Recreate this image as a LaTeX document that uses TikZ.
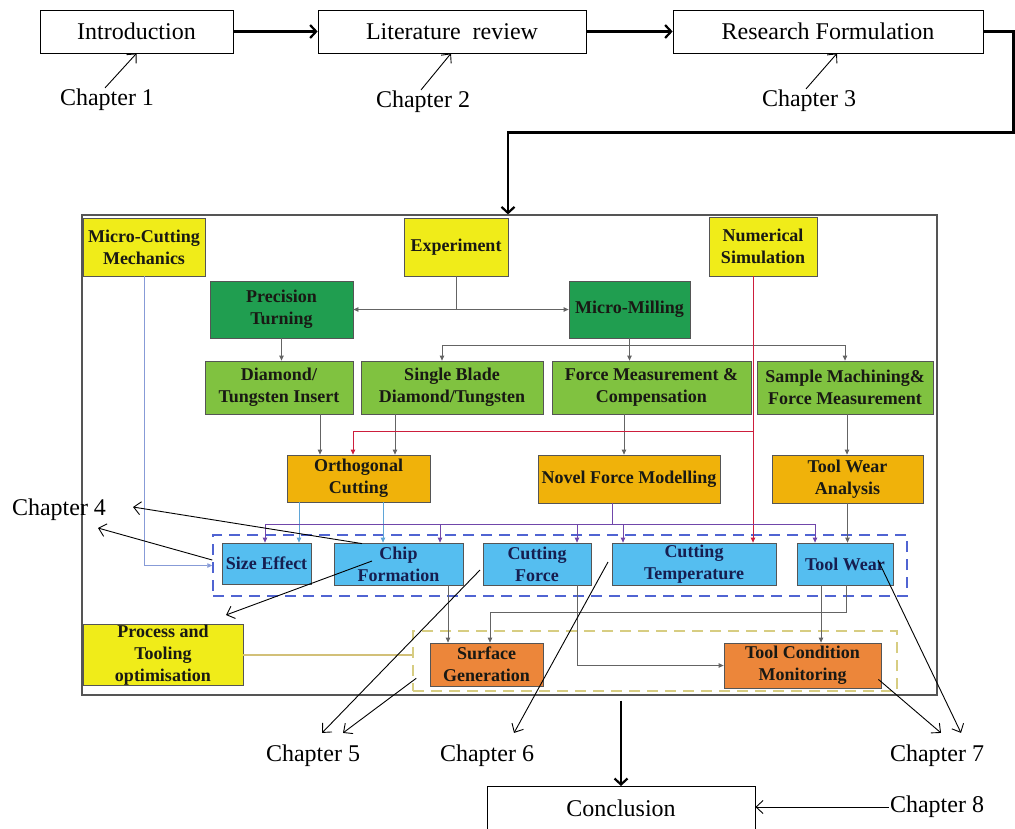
\documentclass[tikz,border=0pt]{standalone}
\usepackage{fontspec}
\setmainfont{Liberation Serif}
\usetikzlibrary{arrows.meta,calc}
\definecolor{cyel}{RGB}{240,236,25}
\definecolor{cdg}{RGB}{32,158,80}
\definecolor{clg}{RGB}{128,194,64}
\definecolor{cgold}{RGB}{240,178,10}
\definecolor{cblue}{RGB}{85,190,240}
\definecolor{corange}{RGB}{236,134,58}
\definecolor{boxline}{RGB}{85,85,85}
\definecolor{gline}{RGB}{100,100,100}
\definecolor{bline}{RGB}{95,165,215}
\definecolor{mline}{RGB}{135,155,215}
\definecolor{pline}{RGB}{112,70,170}
\definecolor{rline}{RGB}{205,30,60}
\definecolor{tanline}{RGB}{210,192,120}
\definecolor{bdash}{RGB}{80,100,210}
\definecolor{ydash}{RGB}{215,205,130}
\definecolor{txtdark}{RGB}{25,25,20}
\definecolor{txtnavy}{RGB}{22,30,80}
\begin{document}
\begin{tikzpicture}[x=1pt,y=-1pt,
  bx/.style={draw=boxline, line width=0.8pt, inner sep=0pt, align=center,
    font=\bfseries\fontsize{18}{22}\selectfont, text=txtdark},
  wbox/.style={draw=black, line width=0.8pt, fill=white, inner sep=0pt,
    font=\fontsize{24}{28}\selectfont},
  chap/.style={font=\fontsize{24}{28}\selectfont, inner sep=1pt},
  garrow/.style={draw=gline, line width=0.8pt, -{Triangle[length=5pt,width=4.5pt]}},
  bigarrow/.style={line width=2.2pt, -{Straight Barb[length=6pt,width=13pt]}},
  charrow/.style={line width=0.9pt, -{Straight Barb[length=7pt,width=13pt]}},
]
\useasboundingbox (0,0) rectangle (1015,828);

% top row
\node[wbox, minimum width=193pt, minimum height=43pt] (intro) at (136.5,31.5) {Introduction};
\node[wbox, minimum width=268pt, minimum height=43pt] (lit) at (452,31.5) {Literature\ \ review};
\node[wbox, minimum width=310pt, minimum height=43pt] (res) at (828,31.5) {Research Formulation};
\node[chap] (ch1) at (107,100) {Chapter 1};
\node[chap] (ch2) at (423,102) {Chapter 2};
\node[chap] (ch3) at (809,101) {Chapter 3};
\draw[bigarrow] (intro.east) -- (lit.west);
\draw[bigarrow] (lit.east) -- (res.west);
\draw[charrow] ([xshift=-2pt]ch1.north) -- (intro.south);
\draw[charrow] ([xshift=-2pt]ch2.north) -- ([xshift=-1pt]lit.south);
\draw[charrow] ([xshift=-3pt]ch3.north) -- ([xshift=9pt]res.south);

% main frame
\node[draw=boxline, line width=1.2pt, minimum width=855pt, minimum height=480pt, inner sep=0pt] (frame) at (509.5,455) {};
\draw[bigarrow] (res.east) -- ++(30,0) |- ([xshift=-1.5pt,yshift=82pt]frame.north) -- ([xshift=-1.5pt]frame.north);

% dashed groups
\node[draw=bdash, line width=1.5pt, dash pattern=on 11pt off 7pt, minimum width=694pt, minimum height=61pt, inner sep=0pt] (bluebox) at (560,565.5) {};
\node[draw=ydash, line width=1.5pt, dash pattern=on 11pt off 7pt, minimum width=484pt, minimum height=60pt, inner sep=0pt] (ybox) at (655,661) {};

% boxes
\node[bx, fill=cyel, minimum width=122pt, minimum height=58pt] (mcm) at (144,247) {Micro-Cutting\\Mechanics};
\node[bx, fill=cyel, minimum width=104pt, minimum height=58pt] (exp) at (456,247) {Experiment};
\node[bx, fill=cyel, minimum width=108pt, minimum height=59pt] (num) at (763,246.5) {Numerical\\Simulation};
\node[bx, fill=cdg, minimum width=143pt, minimum height=57pt] (pt) at (281.5,309.5) {Precision\\Turning};
\node[bx, fill=cdg, minimum width=121pt, minimum height=57pt] (mm) at (629.5,309.5) {Micro-Milling};
\node[bx, fill=clg, minimum width=148pt, minimum height=53pt] (dti) at (279,387.5) {Diamond/\\Tungsten Insert};
\node[bx, fill=clg, minimum width=182pt, minimum height=53pt] (sbd) at (452,387.5) {Single Blade\\Diamond/Tungsten};
\node[bx, fill=clg, minimum width=199pt, minimum height=53pt] (fmc) at (651.5,387.5) {Force Measurement \&\\Compensation};
\node[bx, fill=clg, minimum width=176pt, minimum height=53pt] (smf) at (845,387.5) {Sample Machining\&\\Force Measurement};
\node[bx, fill=cgold, minimum width=143pt, minimum height=47pt] (orth) at (358.5,478.5) {Orthogonal\\Cutting};
\node[bx, fill=cgold, minimum width=182pt, minimum height=48pt] (nfm) at (629,479) {Novel Force Modelling};
\node[bx, fill=cgold, minimum width=151pt, minimum height=48pt] (twa) at (847.5,479) {Tool Wear\\Analysis};
\node[bx, fill=cblue, text=txtnavy, minimum width=89pt, minimum height=41pt] (size) at (266.5,563.5) {Size Effect};
\node[bx, fill=cblue, text=txtnavy, minimum width=129pt, minimum height=42pt] (chip) at (398.5,564) {Chip\\Formation};
\node[bx, fill=cblue, text=txtnavy, minimum width=108pt, minimum height=42pt] (cf) at (537,564) {Cutting\\Force};
\node[bx, fill=cblue, text=txtnavy, minimum width=164pt, minimum height=42pt] (ct) at (694,564) {Cutting\\Temperature};
\node[bx, fill=cblue, text=txtnavy, minimum width=96pt, minimum height=42pt] (tw) at (845,564) {Tool Wear};
\node[bx, fill=cyel, minimum width=160pt, minimum height=58pt] (pto) at (163,655) {Process and\\Tooling\\optimisation};
\node[bx, fill=corange, minimum width=113pt, minimum height=43pt] (sg) at (486.5,664.5) {Surface\\Generation};
\node[bx, fill=corange, minimum width=157pt, minimum height=45pt] (tcm) at (802.5,665.5) {Tool Condition\\Monitoring};

% connectors inside
\draw[garrow] (exp.south) |- (pt.east);
\draw[garrow] (exp.south) |- (mm.west);
\draw[garrow] (pt.south) -- (pt.south |- dti.north);
\draw[garrow] (mm.south) -- ++(0,7) -| ([xshift=-10pt]sbd.north);
\draw[garrow] (mm.south) -- (mm.south |- fmc.north);
\draw[garrow] (mm.south) -- ++(0,7) -| (smf.north);
\draw[garrow] ([xshift=41pt]dti.south) -- ([xshift=41pt]dti.south |- orth.north);
\draw[garrow] ([xshift=-57pt]sbd.south) -- ([xshift=-57pt]sbd.south |- orth.north);
\draw[garrow] ([xshift=-27.5pt]fmc.south) -- ([xshift=-27.5pt]fmc.south |- nfm.north);
\draw[garrow] ([xshift=2pt]smf.south) -- ([xshift=2pt]smf.south |- twa.north);
\draw[garrow] (twa.south) -- (twa.south |- tw.north);

% red from numerical simulation
\draw[draw=rline, line width=0.8pt, -{Triangle[length=5pt,width=4.5pt]}] ([xshift=-10pt]num.south) -- ([xshift=-10pt]num.south |- ct.north);
\coordinate (rk) at ([xshift=-10pt,yshift=-155pt]num.south);
\draw[draw=rline, line width=0.8pt, -{Triangle[length=5pt,width=4.5pt]}] (rk) -| ([xshift=-5.5pt]orth.north);

% blue from orthogonal
\draw[draw=bline, line width=0.8pt, -{Triangle[length=5pt,width=4.5pt]}] ([xshift=-59.5pt]orth.south) -- ([xshift=-59.5pt]orth.south |- size.north);
\draw[draw=bline, line width=0.8pt, -{Triangle[length=5pt,width=4.5pt]}] ([xshift=24.5pt]orth.south) -- ([xshift=24.5pt]orth.south |- chip.north);

% purple bus from novel force modelling
\coordinate (nb) at ([xshift=-17pt,yshift=-21pt]nfm.south);
\draw[draw=pline, line width=1pt] ([xshift=-17pt]nfm.south) -- (nb);
\begin{scope}[draw=pline, line width=0.8pt, -{Triangle[length=5pt,width=4.5pt]}]
\draw (nb) -| ([xshift=-1.5pt]size.north);
\draw (nb) -| ([xshift=41.5pt]chip.north);
\draw (nb) -| ([xshift=40pt]cf.north);
\draw (nb) -| ([xshift=-71pt]ct.north);
\draw (nb) -| ([xshift=-30pt]tw.north);
\end{scope}

% micro-cutting mechanics to size effect group
\draw[draw=mline, line width=0.8pt, -{Triangle[length=5pt,width=4.5pt]}] (mcm.south) |- (bluebox.west);

% lower connectors
\draw[garrow] ([xshift=49.5pt]chip.south) -- ([xshift=49.5pt]chip.south |- sg.north);
\draw[garrow] ([xshift=40pt]cf.south) |- (tcm.west);
\draw[garrow] ([xshift=-24pt]tw.south) -- ([xshift=-24pt]tw.south |- tcm.north);
\draw[garrow] ([xshift=1pt]tw.south) -- ++(0,27) -| ([xshift=3.5pt]sg.north);
\draw[draw=tanline, line width=1.2pt] (pto.east) -- (pto.east -| ybox.west);

% conclusion
\node[wbox, minimum width=268pt, minimum height=46pt, anchor=north] (conc) at (621,786) {};
\node[chap] (conctext) at (621,808) {Conclusion};
\draw[bigarrow] ([xshift=111.5pt,yshift=-5pt]frame.south) -- (conc.north);
\node[chap] (ch8) at (937,807) {Chapter 8};
\draw[charrow] (ch8.west) -- (conc.east |- ch8.west);

% chapter labels
\node[chap] (ch4) at (59,510) {Chapter 4};
\node[chap] (ch5) at (313,756) {Chapter 5};
\node[chap] (ch6) at (487,756) {Chapter 6};
\node[chap] (ch7) at (937,756) {Chapter 7};

\coordinate (c4a) at (133,507);
\coordinate (c4b) at (98,528);
\coordinate (c4c) at (226,615);
\draw[charrow] ([xshift=-36.5pt,yshift=-1pt]chip.north) -- (c4a);
\draw[charrow] ([yshift=5.5pt]bluebox.west) -- (c4b);
\draw[charrow] ([xshift=-26.5pt,yshift=3pt]chip.center) -- (c4c);

\draw[charrow] ([xshift=-57pt,yshift=-6pt]cf.center) -- ([xshift=9pt,yshift=11pt]ch5.north);
\draw[charrow] ([xshift=4pt,yshift=-48pt]ybox.north west) -- ([xshift=30pt,yshift=11pt]ch5.north);
\draw[charrow] ([xshift=-86pt,yshift=2pt]ct.center) -- ([xshift=27pt,yshift=11pt]ch6.north);
\draw[charrow] ([xshift=33pt,yshift=4pt]tw.center) -- ([xshift=24pt,yshift=11pt]ch7.north);
\draw[charrow] ([xshift=-3pt,yshift=9pt]tcm.south east) -- ([xshift=4pt,yshift=11pt]ch7.north);
\end{tikzpicture}
\end{document}
